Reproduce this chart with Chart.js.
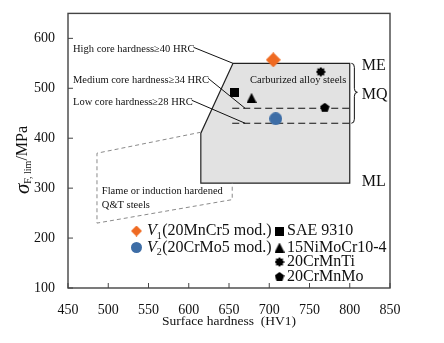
<!DOCTYPE html>
<html>
<head>
<meta charset="utf-8">
<script src="https://cdn.jsdelivr.net/npm/chart.js@4.4.1/dist/chart.umd.min.js"></script>
<style>
html, body { margin: 0; padding: 0; background: #fff; }
#wrap { width: 444px; height: 343px; }
</style>
</head>
<body>
<div id="wrap"><canvas id="myChart" width="444" height="343"></canvas></div>
<script>
// steels in the diagram
var steelNames = ['V1(20MnCr5 mod.)', 'V2(20CrMo5 mod.)', 'SAE 9310', '15NiMoCr10-4', '20CrMnTi', '20CrMnMo'];
var steelHV = [705, 708, 657, 678, 764, 769];
var steelSigma = [557, 439, 491, 481, 533, 461];
var steelColors = ['#ef6a22', '#3d6da6', '#000', '#000', '#000', '#000'];
var steelMarkers = ['diamond', 'circle', 'square', 'triangle', 'flower', 'pentagon'];

// carburized alloy steels field
var carbHV = [655, 800, 800, 615, 615, 655];
var carbSigma = [550, 550, 310, 310, 410, 550];
var mqSigma = [460, 430];
var mqHV = [654, 800];

// flame or induction hardened field
var flameHV = [615, 486, 486, 654, 654];
var flameSigma = [412, 370, 230, 277, 310];

// core hardness labels and where their leaders point
var hrcLabels = ['High core hardness\u226540 HRC', 'Medium core hardness\u226534 HRC', 'Low core hardness\u226528 HRC'];
var hrcSigma = [578, 516, 472];
var hrcTargetHV = [655, 670, 670];
var hrcTargetSigma = [550, 460, 430];

var hvRange = [450, 850];
var sigmaRange = [100, 650];

var serif = '"Liberation Serif", "Times New Roman", serif';

function makeMarker(kind, color, size) {
    var c = document.createElement('canvas');
    c.width = size; c.height = size;
    var g = c.getContext('2d');
    var m = size / 2, i, a;
    g.fillStyle = color;
    g.beginPath();
    if (kind === 'diamond') {
        g.moveTo(m, 0); g.lineTo(size, m); g.lineTo(m, size); g.lineTo(0, m);
    } else if (kind === 'circle') {
        g.arc(m, m, m, 0, Math.PI * 2);
    } else if (kind === 'square') {
        g.rect(0, 0, size, size);
    } else if (kind === 'triangle') {
        g.moveTo(m, 0); g.lineTo(size, size); g.lineTo(0, size);
    } else if (kind === 'pentagon') {
        for (i = 0; i < 5; i++) {
            a = -Math.PI / 2 + i * 2 * Math.PI / 5;
            g.lineTo(m + m * Math.cos(a), m + m * Math.sin(a));
        }
    } else {
        for (i = 0; i < 16; i++) {
            a = -Math.PI / 2 + i * Math.PI / 8;
            var r = i % 2 ? m * 0.72 : m;
            g.lineTo(m + r * Math.cos(a), m + r * Math.sin(a));
        }
    }
    g.closePath();
    g.fill();
    return c;
}

var plotSizes = [15, 13, 9, 10, 10, 10];
var legendSizes = [11, 11, 9, 10, 10, 10];

var pointSets = steelNames.map(function (name, i) {
    return {
        label: name,
        data: [{ x: steelHV[i], y: steelSigma[i] }],
        pointStyle: makeMarker(steelMarkers[i], steelColors[i], plotSizes[i]),
        pointRadius: plotSizes[i] / 2,
        backgroundColor: steelColors[i],
        borderColor: steelColors[i],
        order: 0
    };
});

function line(xs, ys, extra) {
    var ds = {
        data: xs.map(function (x, i) { return { x: x, y: ys[i] }; }),
        showLine: true,
        pointRadius: 0,
        fill: false,
        order: 5
    };
    for (var k in extra) ds[k] = extra[k];
    return ds;
}

var fieldSets = [
    line(carbHV, carbSigma, { backgroundColor: '#e2e2e2', borderColor: '#222', borderWidth: 1.2, fill: 'shape', order: 10 }),
    line(mqHV, [mqSigma[0], mqSigma[0]], { borderColor: '#111', borderWidth: 1.2, borderDash: [7, 4] }),
    line(mqHV, [mqSigma[1], mqSigma[1]], { borderColor: '#111', borderWidth: 1.2, borderDash: [7, 4] }),
    line(flameHV, flameSigma, { borderColor: '#8a8a8a', borderWidth: 1, borderDash: [4, 3] })
];

var notes = {
    id: 'notes',
    afterDatasetsDraw: function (chart) {
        var ctx = chart.ctx, xs = chart.scales.x, ys = chart.scales.y;
        var X = function (v) { return xs.getPixelForValue(v); };
        var Y = function (v) { return ys.getPixelForValue(v); };
        ctx.save();
        ctx.fillStyle = '#111';
        ctx.textBaseline = 'middle';

        // core hardness labels with leaders
        ctx.font = '10.5px ' + serif;
        ctx.strokeStyle = '#111';
        ctx.lineWidth = 1;
        hrcLabels.forEach(function (t, i) {
            var x0 = 73, y0 = Y(hrcSigma[i]);
            ctx.textAlign = 'left';
            ctx.fillText(t, x0, y0);
            var w = ctx.measureText(t).width;
            ctx.beginPath();
            ctx.moveTo(x0 + w - 1, y0 - 2);
            ctx.lineTo(X(hrcTargetHV[i]), Y(hrcTargetSigma[i]));
            ctx.stroke();
        });

        ctx.textAlign = 'center';
        ctx.fillText('Carburized alloy steels', X(736), Y(516));
        ctx.textAlign = 'left';
        ctx.fillText('Flame or induction hardened', X(492), Y(293));
        ctx.fillText('Q&T steels', X(492), Y(265));

        // ME / MQ / ML
        ctx.font = '16px ' + serif;
        ctx.fillText('ME', X(815), Y(546));
        ctx.fillText('MQ', X(815), Y(486));
        ctx.fillText('ML', X(815), Y(312));

        // brace
        var bx = X(802), top = Y(550), bot = Y(430), mid = Y(492);
        ctx.lineWidth = 1;
        ctx.beginPath();
        ctx.moveTo(bx, top);
        ctx.quadraticCurveTo(bx + 3, top, bx + 3, top + 4);
        ctx.lineTo(bx + 3, mid - 4);
        ctx.quadraticCurveTo(bx + 3, mid, bx + 6, mid);
        ctx.quadraticCurveTo(bx + 3, mid, bx + 3, mid + 4);
        ctx.lineTo(bx + 3, bot - 4);
        ctx.quadraticCurveTo(bx + 3, bot, bx, bot);
        ctx.stroke();

        // legend
        var rows = [231, 247.5, 262, 277];
        var leftCol = [136.5, 147], rightCol = [279.5, 287];
        pointSets.forEach(function (ds, i) {
            var col = i < 2 ? leftCol : rightCol;
            var y = i < 2 ? rows[i] : rows[i - 2];
            var s = legendSizes[i];
            ctx.drawImage(makeMarker(steelMarkers[i], steelColors[i], s), col[0] - s / 2, y - s / 2);
            ctx.fillStyle = '#111';
            ctx.textBaseline = 'middle';
            if (i < 2) {
                var x = col[1];
                ctx.font = 'italic 16px ' + serif;
                ctx.fillText('V', x, y);
                x += ctx.measureText('V').width;
                ctx.font = '10px ' + serif;
                ctx.fillText(String(i + 1), x, y + 5);
                x += ctx.measureText('1').width + 0.5;
                ctx.font = '16px ' + serif;
                ctx.fillText(steelNames[i].slice(2), x, y);
            } else {
                ctx.font = '16px ' + serif;
                ctx.fillText(steelNames[i], col[1], y);
            }
        });
        ctx.restore();
    },
    afterDraw: function (chart) {
        var ctx = chart.ctx, a = chart.chartArea;
        ctx.save();
        ctx.strokeStyle = '#444';
        ctx.lineWidth = 1.4;
        ctx.strokeRect(a.left, a.top, a.right - a.left, a.bottom - a.top);
        ctx.lineWidth = 1;
        ctx.beginPath();
        chart.scales.x.ticks.forEach(function (t) {
            var px = chart.scales.x.getPixelForValue(t.value);
            ctx.moveTo(px, a.bottom); ctx.lineTo(px, a.bottom - 5);
        });
        chart.scales.y.ticks.forEach(function (t) {
            var py = chart.scales.y.getPixelForValue(t.value);
            ctx.moveTo(a.left, py); ctx.lineTo(a.left + 5, py);
        });
        ctx.stroke();

        // axis titles
        ctx.fillStyle = '#111';
        ctx.textBaseline = 'middle';
        ctx.textAlign = 'center';
        ctx.font = '13.5px ' + serif;
        ctx.fillText('Surface hardness\u2002(HV1)', (a.left + a.right) / 2, 321);

        ctx.translate(23, 160);
        ctx.rotate(-Math.PI / 2);
        ctx.textAlign = 'left';
        var parts = [['italic 21px ' + serif, '\u03c3', 0], ['10px ' + serif, 'F, lim', 5], ['16px ' + serif, '/MPa', 0]];
        var total = 0;
        parts.forEach(function (p) { ctx.font = p[0]; total += ctx.measureText(p[1]).width; });
        var x = -total / 2;
        parts.forEach(function (p) {
            ctx.font = p[0];
            ctx.fillText(p[1], x, p[2]);
            x += ctx.measureText(p[1]).width;
        });
        ctx.restore();
    }
};

var ctx = document.getElementById('myChart').getContext('2d');
var myChart = new Chart(ctx, {
    type: 'scatter',
    data: {
        datasets: pointSets.concat(fieldSets)
    },
    options: {
        responsive: false,
        animation: false,
        layout: { padding: { left: 0, top: 12, right: 54, bottom: 0 } },
        plugins: {
            legend: { display: false },
            tooltip: { enabled: false }
        },
        scales: {
            x: {
                min: hvRange[0],
                max: hvRange[1],
                afterFit: function (s) { s.height = 55; },
                grid: { display: false },
                border: { display: false },
                ticks: { stepSize: 50, color: '#111', padding: 6, maxRotation: 0, font: { family: serif, size: 14 } }
            },
            y: {
                min: sigmaRange[0],
                max: sigmaRange[1],
                afterFit: function (s) { s.width = 68; },
                grid: { display: false },
                border: { display: false },
                ticks: { stepSize: 100, includeBounds: false, color: '#111', padding: 5, font: { family: serif, size: 14 } }
            }
        }
    },
    plugins: [notes]
});
</script>
</body>
</html>
